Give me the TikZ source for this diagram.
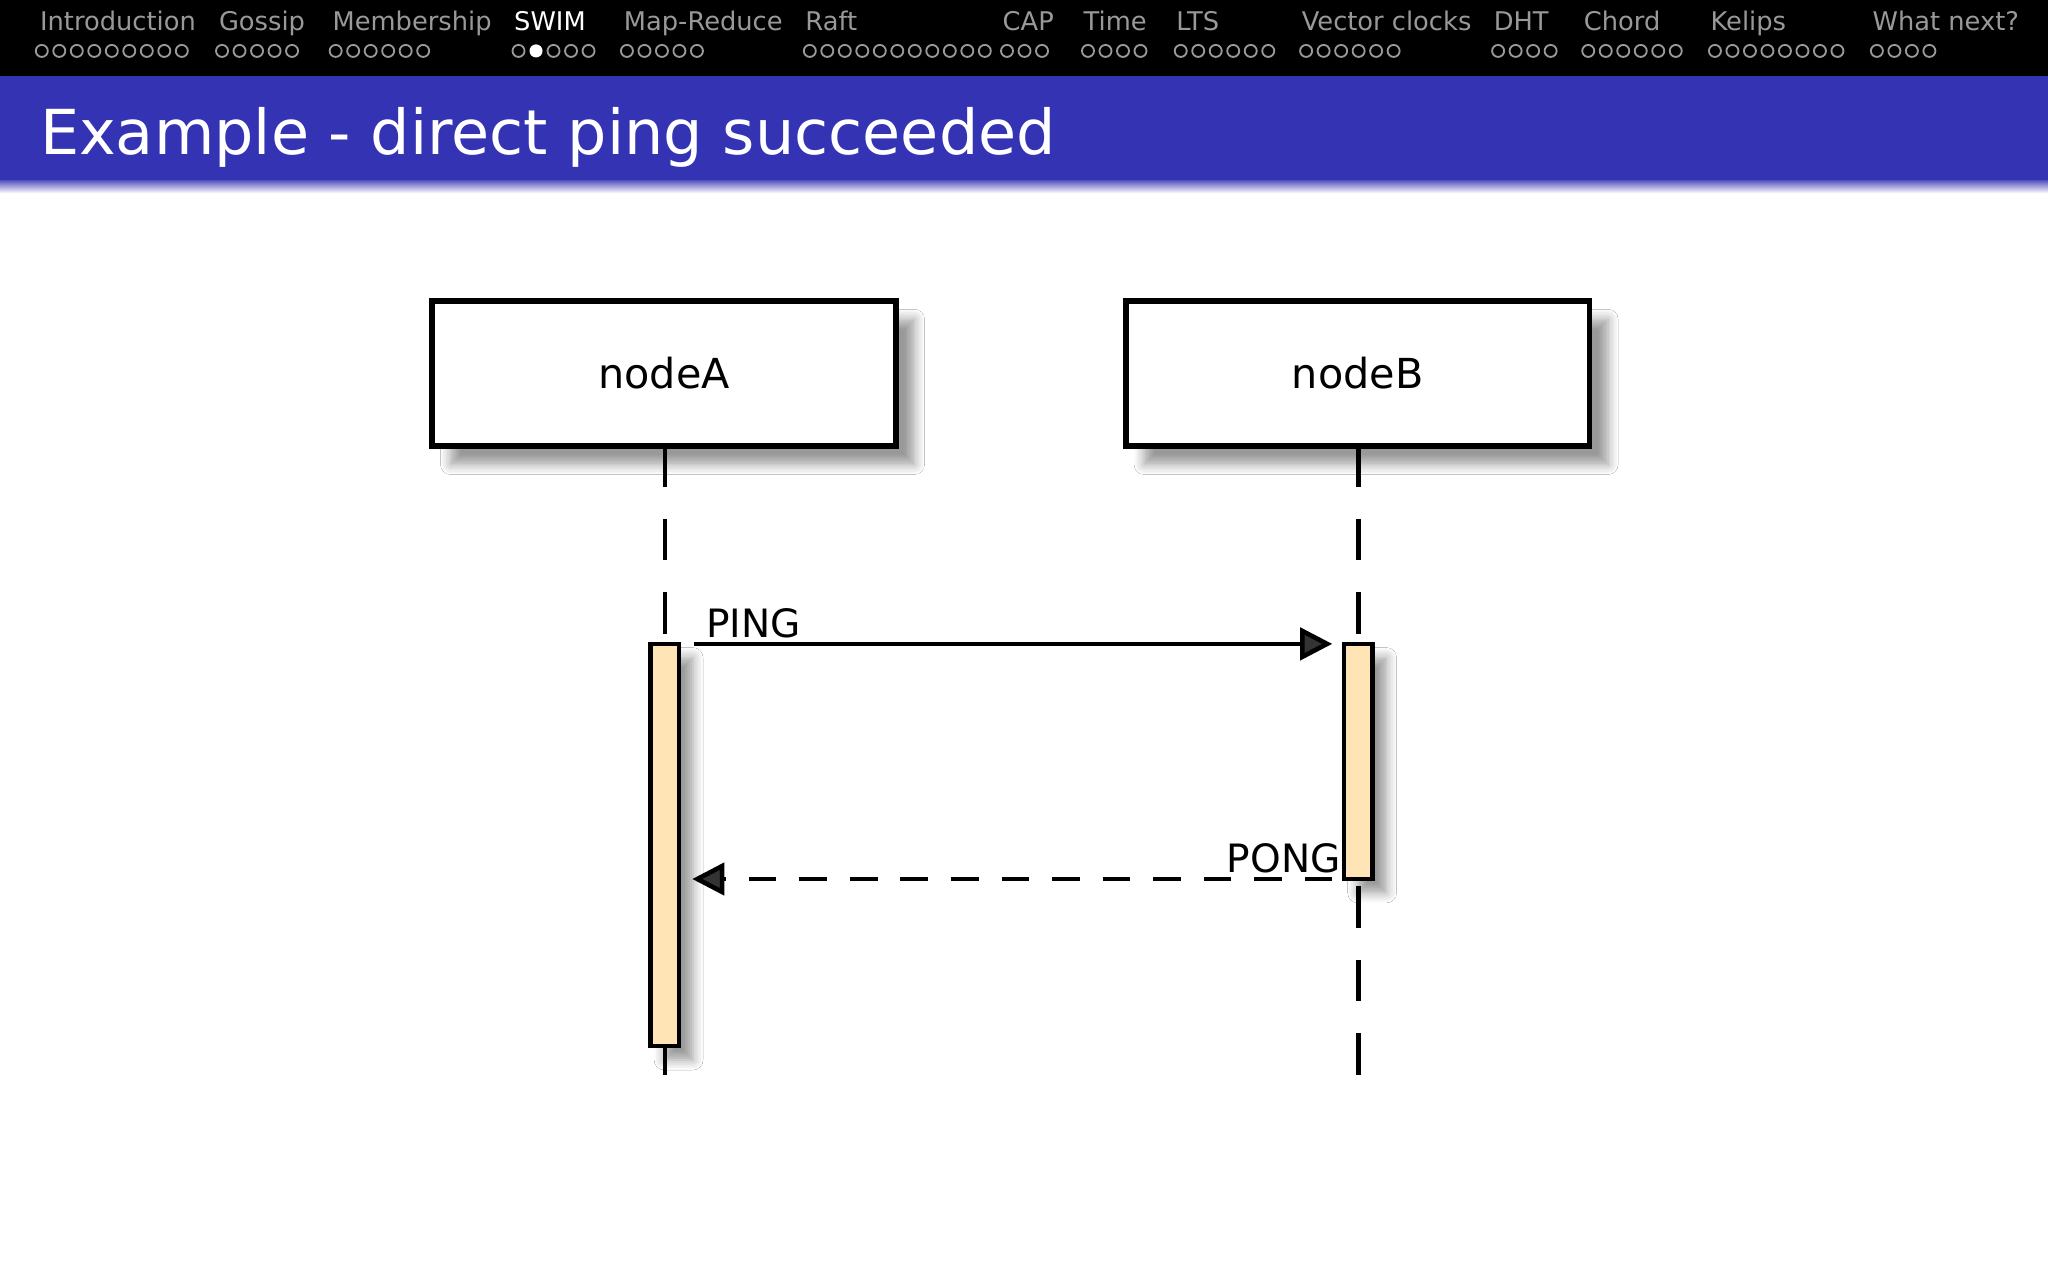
\documentclass[tikz,border=0pt]{standalone}
\usepackage{fontspec}
\setmainfont{DejaVu Sans}
\usetikzlibrary{arrows.meta,shadows.blur}
\definecolor{bar}{HTML}{3333B3}
\definecolor{act}{HTML}{FFE4B5}
\definecolor{navg}{HTML}{999999}
\tikzset{
  lbox/.style={draw,line width=1.2pt,fill=white,minimum width=3.55cm,minimum height=1.11cm,font=\fontsize{9}{10}\selectfont,blur shadow={shadow xshift=4pt,shadow yshift=-4pt,shadow blur steps=8}},
  life/.style={dashed,line width=1pt,dash pattern=on 9pt off 7pt},
  actbox/.style={draw,line width=1pt,fill=act,blur shadow={shadow xshift=3pt,shadow yshift=-3pt,shadow blur steps=6}},
  msg/.style={line width=1pt,-{Triangle[length=7pt,width=7pt]}},
  mlabel/.style={font=\fontsize{8.5}{10}\selectfont,inner sep=0pt},
  nav/.style={font=\fontsize{5.6}{6}\selectfont,text=navg,anchor=base west,inner sep=0pt},
  navdot/.style={draw=navg,line width=0.4pt}
}
\begin{document}
\begin{tikzpicture}[x=0.01cm,y=-0.01cm]
\useasboundingbox (0,0) rectangle (1568,980);
\fill[white] (0,0) rectangle (1568,980);
\fill[black] (0,0) rectangle (1568,58);
\shade[top color=bar,bottom color=white] (0,136) rectangle (1568,148);
\fill[bar] (0,58) rectangle (1568,138);
\node[font=\fontsize{13.5}{15}\selectfont,text=white,anchor=base west,inner sep=0pt] (title) at (30,118) {Example - direct ping succeeded};
% nav
\foreach \t/\x/\n/\dx [count=\i] in {Introduction/30/9/32,Gossip/167/5/170,Membership/254/6/257,SWIM/393/5/397,Map-Reduce/477/5/480,Raft/616/11/620,CAP/767/3/771,Time/829/4/833,LTS/900/6/904,Vector clocks/996/6/1000,DHT/1143/4/1147,Chord/1212/6/1216,Kelips/1309/8/1313,What next?/1433/4/1437}{
  \ifnum\i=4
    \node[nav,text=white] (nav\i) at (\x,23) {\t};
  \else
    \node[nav] (nav\i) at (\x,23) {\t};
  \fi
  \foreach \k in {1,...,\n}{
    \ifnum\i=4 \ifnum\k=2
      \fill[white] ({\dx+(\k-1)*13.4},39) circle (5);
    \else
      \draw[navdot] ({\dx+(\k-1)*13.4},39) circle (4.6);
    \fi\else
      \draw[navdot] ({\dx+(\k-1)*13.4},39) circle (4.6);
    \fi
  }
}
% lifelines
\coordinate (aend) at (509,845);
\coordinate (bend) at (1040,845);
\draw[life] (509,341) -- (aend);
\draw[life] (1040,341) -- (bend);
\node[lbox] (A) at (508.5,286) {nodeA};
\node[lbox] (B) at (1039.5,286) {nodeB};
\draw[actbox] (498,493) rectangle (520,801);
\draw[actbox] (1029,493) rectangle (1051,673);
\coordinate (p1) at (531,493); \coordinate (p2) at (1020,493);
\coordinate (q1) at (1020,673); \coordinate (q2) at (530,673);
\draw[msg] (p1) -- (p2);
\draw[msg,dashed,dash pattern=on 6pt off 5pt] (q1) -- (q2);
\node[mlabel,anchor=base west] (ping) at (540,488) {PING};
\node[mlabel,anchor=base east] (pong) at (1027,668) {PONG};
\end{tikzpicture}
\end{document}
